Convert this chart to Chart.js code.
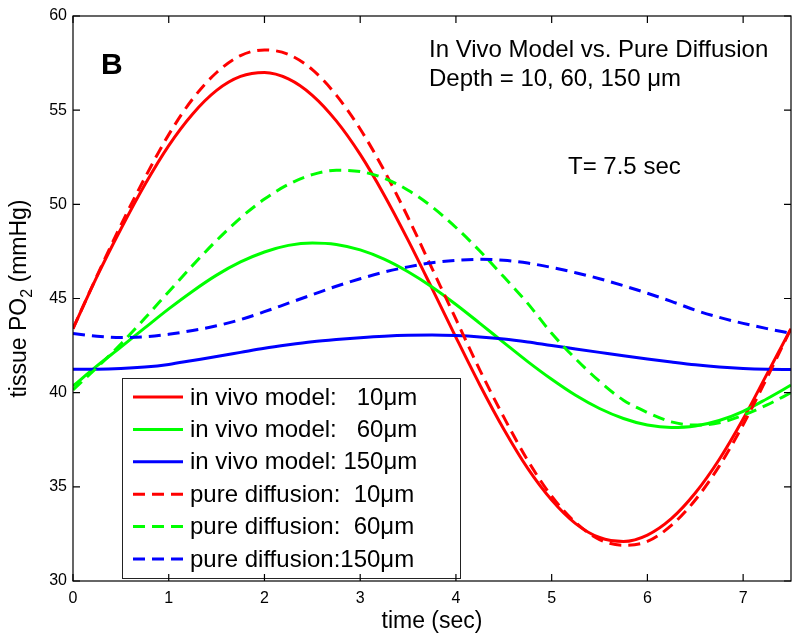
<!DOCTYPE html>
<html>
<head>
<meta charset="utf-8">
<title>tissue PO2 vs time</title>
<script src="https://cdn.jsdelivr.net/npm/chart.js@4.4.0/dist/chart.umd.min.js"></script>
<style>
  body { margin: 0; background: #fff; }
</style>
</head>
<body>
<canvas id="po2Chart" width="800" height="639"></canvas>
<script>
const FONT = '"Liberation Sans", Arial, Helvetica, sans-serif';

// sample times (sec)
const times = [0, 0.25, 0.5, 0.75, 1, 1.25, 1.5, 1.75, 2, 2.25, 2.5, 2.75, 3, 3.25, 3.5, 3.75,
               4, 4.25, 4.5, 4.75, 5, 5.25, 5.5, 5.75, 6, 6.25, 6.5, 6.75, 7, 7.25, 7.5];

// in vivo model (mmHg)
const vivo10 = [43.4, 46.16, 48.69, 51.04, 53.12, 54.8, 56.05, 56.79, 57.0, 56.66, 55.79, 54.43, 52.65, 50.5, 48.1, 45.54,
                42.94, 40.41, 38.06, 35.98, 34.3, 33.05, 32.31, 32.1, 32.44, 33.31, 34.67, 36.45, 38.6, 41.0, 43.4];
const vivo60 = [40.35, 41.42, 42.42, 43.44, 44.45, 45.39, 46.24, 46.94, 47.47, 47.82, 47.95, 47.87, 47.58, 47.09, 46.42, 45.61,
                44.68, 43.68, 42.66, 41.65, 40.71, 39.86, 39.16, 38.63, 38.28, 38.15, 38.23, 38.52, 39.01, 39.68, 40.4];
const vivo150 = [41.25, 41.25, 41.28, 41.36, 41.5, 41.71, 41.92, 42.14, 42.36, 42.54, 42.7, 42.82, 42.92, 43.0, 43.05, 43.06,
                 43.03, 42.96, 42.85, 42.69, 42.5, 42.32, 42.14, 41.96, 41.79, 41.63, 41.48, 41.36, 41.28, 41.24, 41.23];

// pure diffusion (mmHg)
const diff10 = [43.4, 46.2, 48.9, 51.4, 53.7, 55.6, 57.0, 57.9, 58.2, 57.96, 57.15, 55.8, 54.0, 51.8, 49.3, 46.6,
                43.9, 41.2, 38.7, 36.4, 34.5, 33.1, 32.2, 31.9, 32.1, 32.95, 34.3, 36.1, 38.3, 40.8, 43.4];
const diff60 = [40.15, 41.33, 42.58, 43.95, 45.36, 46.76, 48.08, 49.28, 50.28, 51.06, 51.58, 51.81, 51.74, 51.39, 50.75, 49.87,
                48.77, 47.52, 46.15, 44.74, 43.15, 41.8, 40.6, 39.6, 38.95, 38.45, 38.28, 38.4, 38.8, 39.35, 40.0];
const diff150 = [43.14, 43.0, 42.93, 42.97, 43.1, 43.3, 43.55, 43.88, 44.3, 44.75, 45.2, 45.65, 46.05, 46.4, 46.68, 46.9,
                 47.03, 47.08, 47.03, 46.88, 46.65, 46.37, 46.05, 45.68, 45.28, 44.85, 44.38, 44.0, 43.68, 43.4, 43.15];

const seriesLabels = ['in vivo model:   10\u03bcm', 'in vivo model:   60\u03bcm', 'in vivo model: 150\u03bcm',
                      'pure diffusion:  10\u03bcm', 'pure diffusion:  60\u03bcm', 'pure diffusion:150\u03bcm'];
const seriesValues = [vivo10, vivo60, vivo150, diff10, diff60, diff150];
const seriesColors = ['#ff0000', '#00ff00', '#0000ff', '#ff0000', '#00ff00', '#0000ff'];
const seriesDashed = [false, false, false, true, true, true];

const DASH = [12, 7];

function toPoints(values) {
    return values.map((v, i) => ({ x: times[i], y: v }));
}

const datasets = seriesValues.map((vals, i) => ({
    label: seriesLabels[i],
    data: toPoints(vals),
    borderColor: seriesColors[i],
    borderWidth: 3,
    borderDash: seriesDashed[i] ? DASH : [],
    pointRadius: 0,
    cubicInterpolationMode: 'monotone',
    fill: false,
    order: seriesValues.length - i // later series on top, like the original
}));

// box around the axes with inward tick marks
const frameTicks = {
    id: 'frameTicks',
    afterDraw(chart) {
        const { ctx, chartArea: a, scales } = chart;
        const len = 7;
        ctx.save();
        ctx.strokeStyle = '#000';
        ctx.lineWidth = 1.2;
        ctx.strokeRect(a.left, a.top, a.right - a.left, a.bottom - a.top);
        ctx.beginPath();
        scales.x.ticks.forEach(t => {
            const px = scales.x.getPixelForValue(t.value);
            ctx.moveTo(px, a.bottom); ctx.lineTo(px, a.bottom - len);
            ctx.moveTo(px, a.top); ctx.lineTo(px, a.top + len);
        });
        scales.y.ticks.forEach(t => {
            const py = scales.y.getPixelForValue(t.value);
            ctx.moveTo(a.left, py); ctx.lineTo(a.left + len, py);
            ctx.moveTo(a.right, py); ctx.lineTo(a.right - len, py);
        });
        ctx.stroke();
        ctx.restore();
    }
};

// legend box inside the plot, bottom left
const innerLegend = {
    id: 'innerLegend',
    afterDatasetsDraw(chart) {
        const { ctx } = chart;
        const box = { x: 122, y: 378, w: 338, h: 200 };
        const rowH = 32.4;
        ctx.save();
        ctx.fillStyle = '#fff';
        ctx.fillRect(box.x, box.y, box.w, box.h);
        ctx.strokeStyle = '#222';
        ctx.lineWidth = 1;
        ctx.strokeRect(box.x + 0.5, box.y + 0.5, box.w, box.h);
        ctx.font = '24px ' + FONT;
        ctx.textBaseline = 'middle';
        chart.data.datasets.forEach((ds, i) => {
            const y = box.y + 19 + i * rowH;
            ctx.strokeStyle = ds.borderColor;
            ctx.lineWidth = 3;
            ctx.setLineDash(ds.borderDash);
            ctx.beginPath();
            ctx.moveTo(box.x + 11, y);
            ctx.lineTo(box.x + 61, y);
            ctx.stroke();
            ctx.setLineDash([]);
            ctx.fillStyle = '#000';
            ctx.fillText(ds.label, box.x + 68, y + 1);
        });
        ctx.restore();
    }
};

// axis titles and text annotations
const labelsText = {
    id: 'labelsText',
    afterDraw(chart) {
        const { ctx, chartArea: a } = chart;
        ctx.save();
        ctx.fillStyle = '#000';

        // x title
        ctx.font = '23px ' + FONT;
        ctx.textAlign = 'center';
        ctx.textBaseline = 'alphabetic';
        ctx.fillText('time (sec)', (a.left + a.right) / 2, 628);

        // y title with subscript
        const partA = 'tissue PO', sub = '2', partB = ' (mmHg)';
        ctx.font = '23px ' + FONT;
        const wA = ctx.measureText(partA).width;
        const wB = ctx.measureText(partB).width;
        ctx.font = '16px ' + FONT;
        const wS = ctx.measureText(sub).width;
        const total = wA + wS + wB;
        ctx.translate(26, (a.top + a.bottom) / 2);
        ctx.rotate(-Math.PI / 2);
        ctx.textAlign = 'left';
        let x0 = -total / 2;
        ctx.font = '23px ' + FONT;
        ctx.fillText(partA, x0, 0);
        ctx.font = '16px ' + FONT;
        ctx.fillText(sub, x0 + wA, 6);
        ctx.font = '23px ' + FONT;
        ctx.fillText(partB, x0 + wA + wS, 0);
        ctx.setTransform(1, 0, 0, 1, 0, 0);

        // annotations
        ctx.textAlign = 'left';
        ctx.font = 'bold 30px ' + FONT;
        ctx.fillText('B', 101, 74);
        ctx.font = '24px ' + FONT;
        ctx.fillText('In Vivo Model vs. Pure Diffusion', 429, 57);
        ctx.fillText('Depth = 10, 60, 150 \u03bcm', 429, 86);
        ctx.fillText('T= 7.5 sec', 568, 174);
        ctx.restore();
    }
};

const chart = new Chart(document.getElementById('po2Chart'), {
    type: 'line',
    data: { datasets: datasets },
    options: {
        responsive: false,
        animation: false,
        layout: { padding: { left: 0, right: 9, top: 16, bottom: 0 } },
        plugins: {
            legend: { display: false },
            tooltip: { enabled: false }
        },
        scales: {
            x: {
                type: 'linear',
                min: 0,
                max: 7.5,
                grid: { display: false, drawTicks: false },
                border: { display: false },
                ticks: {
                    stepSize: 1,
                    includeBounds: false,
                    padding: 8,
                    maxRotation: 0,
                    color: '#000',
                    font: { family: FONT, size: 16 }
                },
                afterFit(scale) { scale.height = 58; }
            },
            y: {
                min: 30,
                max: 60,
                grid: { display: false, drawTicks: false },
                border: { display: false },
                ticks: {
                    stepSize: 5,
                    padding: 6,
                    color: '#000',
                    font: { family: FONT, size: 16 }
                },
                afterFit(scale) { scale.width = 73; }
            }
        }
    },
    plugins: [innerLegend, frameTicks, labelsText]
});
</script>
</body>
</html>
